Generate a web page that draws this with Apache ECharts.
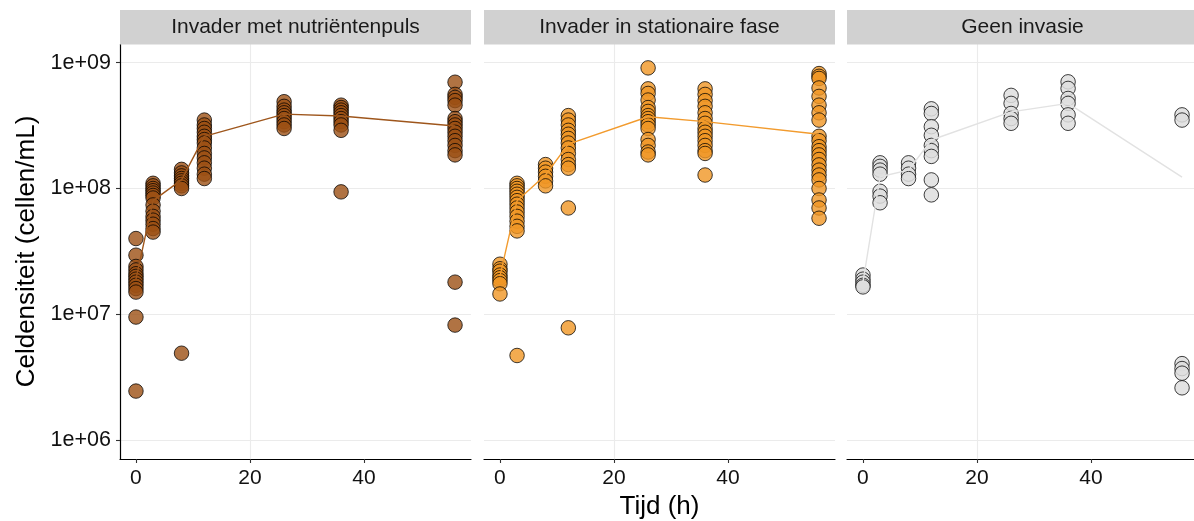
<!DOCTYPE html>
<html>
<head>
<meta charset="utf-8">
<script src="https://cdn.jsdelivr.net/npm/echarts@6/dist/echarts.min.js"></script>
<style>
  html, body { margin: 0; padding: 0; background: #ffffff; }
  #chart { width: 1194px; height: 521px; }
</style>
</head>
<body>
<div id="chart"></div>
<script>
// Meettijdstippen (uren)
const tijden = [0, 3, 8, 12, 26, 36, 56];

// Panelen
const panelTitels = ['Invader met nutriëntenpuls', 'Invader in stationaire fase', 'Geen invasie'];

// Celdichtheden per tijdstip: Invader met nutriëntenpuls
const pulsMetingen = [
  [4.0e7, 2.95e7, 2.4e7, 2.25e7, 2.1e7, 2.0e7, 1.9e7, 1.8e7, 1.7e7, 1.6e7, 1.5e7, 9.5e6, 2.45e6],
  [1.1e8, 1.05e8, 1.0e8, 9.6e7, 9.2e7, 8.8e7, 8.4e7, 7.4e7, 6.6e7, 6.0e7, 5.6e7, 5.2e7, 4.8e7, 4.5e7],
  [1.42e8, 1.33e8, 1.26e8, 1.2e8, 1.15e8, 1.1e8, 1.05e8, 1.0e8, 4.9e6],
  [3.5e8, 3.2e8, 3.0e8, 2.8e8, 2.6e8, 2.45e8, 2.3e8, 2.1e8, 1.9e8, 1.75e8, 1.6e8, 1.45e8, 1.3e8, 1.2e8],
  [4.9e8, 4.5e8, 4.2e8, 4.0e8, 3.8e8, 3.6e8, 3.4e8, 3.2e8, 3.0e8],
  [4.6e8, 4.4e8, 4.2e8, 4.0e8, 3.8e8, 3.6e8, 3.4e8, 3.2e8, 2.9e8, 9.4e7],
  [7.0e8, 5.6e8, 5.3e8, 5.0e8, 4.6e8, 3.6e8, 3.4e8, 3.2e8, 3.0e8, 2.8e8, 2.6e8, 2.4e8, 2.2e8, 2.0e8, 1.85e8, 1.8e7, 8.2e6]
];
const pulsGemiddelde = [1.9e7, 8.0e7, 1.17e8, 2.6e8, 3.9e8, 3.77e8, 3.14e8];

// Invader in stationaire fase
const stationairMetingen = [
  [2.5e7, 2.3e7, 2.2e7, 2.05e7, 1.95e7, 1.85e7, 1.75e7, 1.45e7],
  [1.1e8, 1.05e8, 1.0e8, 9.5e7, 9.0e7, 8.5e7, 8.0e7, 7.5e7, 7.0e7, 6.5e7, 6.0e7, 5.5e7, 5.0e7, 4.6e7, 4.7e6],
  [1.55e8, 1.45e8, 1.35e8, 1.25e8, 1.15e8, 1.05e8],
  [3.8e8, 3.5e8, 3.2e8, 2.9e8, 2.7e8, 2.5e8, 2.3e8, 2.1e8, 1.9e8, 1.7e8, 1.55e8, 1.45e8, 7.0e7, 7.8e6],
  [9.1e8, 6.2e8, 5.7e8, 5.05e8, 4.4e8, 4.1e8, 3.8e8, 3.6e8, 3.4e8, 3.2e8, 3.0e8, 2.45e8, 2.2e8, 1.95e8, 1.85e8],
  [6.2e8, 5.6e8, 5.0e8, 4.5e8, 4.0e8, 3.6e8, 3.3e8, 3.0e8, 2.8e8, 2.6e8, 2.4e8, 2.2e8, 2.0e8, 1.9e8, 1.28e8],
  [8.2e8, 7.8e8, 7.5e8, 6.3e8, 5.4e8, 4.6e8, 4.0e8, 3.5e8, 2.6e8, 2.4e8, 2.15e8, 2.0e8, 1.85e8, 1.7e8, 1.54e8, 1.4e8, 1.28e8, 1.17e8, 1.0e8, 8.1e7, 7.0e7, 5.8e7]
];
const stationairGemiddelde = [2.0e7, 8.0e7, 1.28e8, 2.25e8, 3.72e8, 3.4e8, 2.7e8];

// Geen invasie
const geenMetingen = [
  [2.05e7, 1.9e7, 1.8e7, 1.7e7, 1.65e7],
  [1.6e8, 1.5e8, 1.4e8, 1.3e8, 9.5e7, 8.7e7, 7.7e7],
  [1.6e8, 1.45e8, 1.3e8, 1.2e8],
  [4.3e8, 3.95e8, 3.1e8, 2.65e8, 2.2e8, 2.0e8, 1.8e8, 1.17e8, 8.9e7],
  [5.5e8, 4.75e8, 3.95e8, 3.6e8, 3.3e8],
  [7.05e8, 6.25e8, 5.2e8, 4.75e8, 3.85e8, 3.3e8],
  [3.85e8, 3.5e8, 4.05e6, 3.7e6, 3.4e6, 2.6e6]
];
const geenGemiddelde = [1.8e7, 1.24e8, 1.4e8, 2.43e8, 4.07e8, 4.75e8, 1.23e8];

// As-labels
const xTicks = [0, 20, 40];
const yTickWaarden = [1e6, 1e7, 1e8, 1e9];
const yTickLabels = ['1e+06', '1e+07', '1e+08', '1e+09'];

const metingen = [pulsMetingen, stationairMetingen, geenMetingen];
const gemiddelden = [pulsGemiddelde, stationairGemiddelde, geenGemiddelde];

// Stijl per paneel
const vulKleuren = ['rgba(156,80,20,0.8)', 'rgba(240,150,36,0.8)', 'rgba(222,222,222,0.85)'];
const lijnKleuren = ['#9E561C', '#F29B2E', '#E2E2E2'];

const FONT = '"Liberation Sans", Arial, Helvetica, sans-serif';
const panelLeft = [120, 484, 847];
const panelWidth = 351;
const panelTop = 44;
const panelHeight = 415;

function yLabel(v) {
  for (let i = 0; i < yTickWaarden.length; i++) {
    if (Math.abs(Math.log10(v) - Math.log10(yTickWaarden[i])) < 1e-6) return yTickLabels[i];
  }
  return '';
}

const grids = [], xAxes = [], yAxes = [], series = [], graphics = [];

for (let p = 0; p < 3; p++) {
  grids.push({
    left: panelLeft[p], top: panelTop, width: panelWidth, height: panelHeight,
    containLabel: false, outerBoundsMode: 'none'
  });

  xAxes.push({
    type: 'value', gridIndex: p, min: -2.8, max: 58.8,
    axisLine: { show: true, onZero: false, lineStyle: { color: '#000', width: 1.2 } },
    axisTick: { show: true, length: 4, customValues: xTicks, lineStyle: { color: '#333', width: 1.1 } },
    axisLabel: { customValues: xTicks, fontSize: 21, color: '#111', margin: 9, fontFamily: FONT },
    splitLine: { show: true, showMinLine: false, showMaxLine: false, lineStyle: { color: '#EBEBEB', width: 1.1 } },
    name: p === 1 ? 'Tijd (h)' : '',
    nameLocation: 'middle', nameGap: 35,
    nameTextStyle: { fontSize: 26, color: '#000', fontFamily: FONT }
  });

  yAxes.push({
    type: 'log', logBase: 10, gridIndex: p,
    min: Math.pow(10, 5.849), max: Math.pow(10, 9.149),
    axisLine: { show: p === 0, onZero: false, lineStyle: { color: '#000', width: 1.2 } },
    axisTick: { show: p === 0, length: 4, lineStyle: { color: '#333', width: 1.1 } },
    axisLabel: { show: p === 0, formatter: yLabel, showMinLabel: false, showMaxLabel: false,
                 fontSize: 21.5, color: '#111', margin: 9, fontFamily: FONT },
    splitLine: { show: true, showMinLine: false, showMaxLine: false, lineStyle: { color: '#EBEBEB', width: 1.1 } },
    name: p === 0 ? 'Celdensiteit (cellen/mL)' : '',
    nameLocation: 'middle', nameGap: 80,
    nameTextStyle: { fontSize: 26, color: '#000', fontFamily: FONT }
  });

  const punten = [];
  metingen[p].forEach((waarden, i) => {
    waarden.forEach(v => punten.push([tijden[i], v]));
  });

  series.push({
    type: 'scatter', xAxisIndex: p, yAxisIndex: p, z: 2,
    symbol: 'circle', symbolSize: 14.5,
    itemStyle: { color: vulKleuren[p], borderColor: 'rgba(0,0,0,0.75)', borderWidth: 1, opacity: 1 },
    data: punten, silent: true
  });

  series.push({
    type: 'line', xAxisIndex: p, yAxisIndex: p, z: 3,
    symbol: 'none', smooth: false,
    lineStyle: { color: lijnKleuren[p], width: 1.4 },
    data: tijden.map((t, i) => [t, gemiddelden[p][i]]), silent: true
  });

  graphics.push({
    type: 'rect', z: 100,
    shape: { x: panelLeft[p], y: 10, width: panelWidth, height: 34.5 },
    style: { fill: '#D1D1D1' }
  });
  graphics.push({
    type: 'text', z: 101,
    x: panelLeft[p] + panelWidth / 2, y: 27.5,
    style: { text: panelTitels[p], fill: '#1a1a1a', font: '21px ' + FONT, align: 'center', verticalAlign: 'middle' }
  });
}

const chart = echarts.init(document.getElementById('chart'), null, { renderer: 'canvas' });
chart.setOption({
  animation: false,
  backgroundColor: '#ffffff',
  grid: grids,
  xAxis: xAxes,
  yAxis: yAxes,
  series: series,
  graphic: graphics
});
</script>
</body>
</html>
